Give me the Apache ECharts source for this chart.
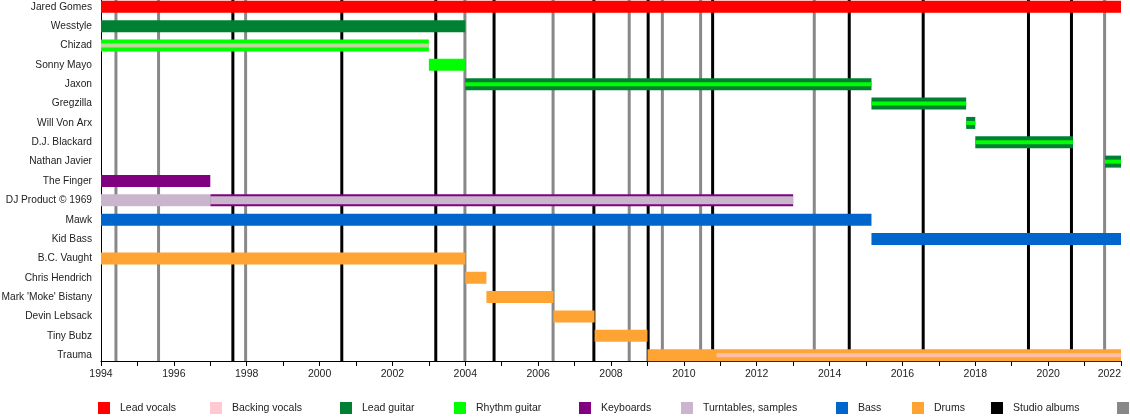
<!DOCTYPE html>
<html>
<head>
<meta charset="utf-8">
<script src="https://cdn.jsdelivr.net/npm/echarts@6/dist/echarts.min.js"></script>
<style>
  html, body { margin: 0; padding: 0; background: #fff; }
  #chart { width: 1130px; height: 420px; }
</style>
</head>
<body>
<div id="chart"></div>
<script>
const members = [
  'Jared Gomes', 'Wesstyle', 'Chizad', 'Sonny Mayo', 'Jaxon', 'Gregzilla',
  'Will Von Arx', 'D.J. Blackard', 'Nathan Javier', 'The Finger',
  'DJ Product \u00A9 1969', 'Mawk', 'Kid Bass', 'B.C. Vaught', 'Chris Hendrich',
  "Mark 'Moke' Bistany", 'Devin Lebsack', 'Tiny Bubz', 'Trauma'
];

const roles = [
  'Lead vocals', 'Backing vocals', 'Lead guitar', 'Rhythm guitar',
  'Keyboards', 'Turntables, samples', 'Bass', 'Drums'
];

const roleColors = {
  'Lead vocals': '#ff0000',
  'Backing vocals': '#ffc8d2',
  'Lead guitar': '#008033',
  'Rhythm guitar': '#00ff00',
  'Keyboards': '#800080',
  'Turntables, samples': '#c9b6cc',
  'Bass': '#0066cc',
  'Drums': '#ffa333'
};

// main bar: member, from, to, role
const tenures = [
  ['Jared Gomes', 1994, 2022, 'Lead vocals'],
  ['Wesstyle', 1994, 2004.0, 'Lead guitar'],
  ['Chizad', 1994, 2003.0, 'Rhythm guitar'],
  ['Sonny Mayo', 2003.0, 2004.0, 'Rhythm guitar'],
  ['Jaxon', 2004.0, 2015.15, 'Lead guitar'],
  ['Gregzilla', 2015.15, 2017.75, 'Lead guitar'],
  ['Will Von Arx', 2017.75, 2018.0, 'Lead guitar'],
  ['D.J. Blackard', 2018.0, 2020.68, 'Lead guitar'],
  ['Nathan Javier', 2021.56, 2022, 'Lead guitar'],
  ['The Finger', 1994, 1997.0, 'Keyboards'],
  ['DJ Product \u00A9 1969', 1994, 1997.0, 'Turntables, samples'],
  ['DJ Product \u00A9 1969', 1997.0, 2013.0, 'Keyboards'],
  ['Mawk', 1994, 2015.15, 'Bass'],
  ['Kid Bass', 2015.15, 2022, 'Bass'],
  ['B.C. Vaught', 1994, 2004.0, 'Drums'],
  ['Chris Hendrich', 2004.0, 2004.58, 'Drums'],
  ["Mark 'Moke' Bistany", 2004.58, 2006.42, 'Drums'],
  ['Devin Lebsack', 2006.42, 2007.55, 'Drums'],
  ['Tiny Bubz', 2007.55, 2009.0, 'Drums'],
  ['Trauma', 2009.0, 2022, 'Drums']
];

// second role, drawn as a stripe inside the main bar
const secondRoles = [
  ['Chizad', 1994, 2003.0, 'Backing vocals'],
  ['Jaxon', 2004.0, 2015.15, 'Rhythm guitar'],
  ['Gregzilla', 2015.15, 2017.75, 'Rhythm guitar'],
  ['Will Von Arx', 2017.75, 2018.0, 'Rhythm guitar'],
  ['D.J. Blackard', 2018.0, 2020.68, 'Rhythm guitar'],
  ['Nathan Javier', 2021.56, 2022, 'Rhythm guitar'],
  ['DJ Product \u00A9 1969', 1997.0, 2013.0, 'Turntables, samples'],
  ['Trauma', 2010.9, 2022, 'Backing vocals']
];

const studioAlbums = [1997.62, 2000.61, 2003.19, 2004.79, 2007.53, 2009.02, 2010.79, 2014.54, 2016.57, 2019.46, 2020.64];
const otherReleases = [1994.41, 1995.58, 1997.97, 2003.99, 2006.41, 2008.5, 2009.41, 2010.46, 2013.58, 2021.55];

const yearMin = 1994;
const yearMax = 2022;

const legendNames = roles.concat(['Studio albums', 'Other releases']);
const legendLeft = [98, 210, 340, 454, 579, 681, 836, 912, 991, 1117];

const chart = echarts.init(document.getElementById('chart'));

function rows(list, role) {
  return list.filter(d => d[3] === role).map(d => [members.indexOf(d[0]), d[1], d[2]]);
}

function barItem(h, fill, opacity) {
  return function (params, api) {
    const a = api.coord([api.value(1), api.value(0)]);
    const b = api.coord([api.value(2), api.value(0)]);
    return {
      type: 'rect',
      shape: { x: a[0], y: a[1] - h / 2, width: b[0] - a[0], height: h },
      style: { fill: fill, opacity: opacity }
    };
  };
}

function lineItem(params, api) {
  const x = api.coord([api.value(0), 0])[0];
  const cs = params.coordSys;
  return {
    type: 'rect',
    shape: { x: x - 1.5, y: cs.y, width: 3, height: cs.height },
    style: { fill: api.visual('color') }
  };
}

const series = [];

series.push({
  name: 'Studio albums', type: 'custom', z: 1,
  itemStyle: { color: '#000' },
  renderItem: lineItem, encode: { x: 0 },
  data: studioAlbums.map(v => [v])
});
series.push({
  name: 'Other releases', type: 'custom', z: 1,
  itemStyle: { color: '#888' },
  renderItem: lineItem, encode: { x: 0 },
  data: otherReleases.map(v => [v])
});

roles.forEach(role => {
  series.push({
    name: role, type: 'custom', z: 2,
    itemStyle: { color: roleColors[role] },
    renderItem: barItem(12, roleColors[role], 1),
    encode: { x: [1, 2], y: 0 },
    data: rows(tenures, role)
  });
});

roles.forEach(role => {
  const h = role === 'Turntables, samples' ? 8 : 4;
  const op = role === 'Backing vocals' ? 0.75 : 1;
  series.push({
    name: role, type: 'custom', z: 3,
    itemStyle: { color: roleColors[role] },
    renderItem: barItem(h, roleColors[role], op),
    encode: { x: [1, 2], y: 0 },
    data: rows(secondRoles, role)
  });
});

const option = {
  animation: false,
  backgroundColor: '#fff',
  textStyle: { fontFamily: 'Liberation Sans, Arial, sans-serif' },
  grid: { left: 101, right: 9, top: 0, bottom: 59, containLabel: false, outerBoundsMode: 'none' },
  xAxis: {
    type: 'value',
    min: yearMin,
    max: yearMax,
    interval: 1,
    axisLine: { show: true, onZero: false, lineStyle: { color: '#000', width: 1 } },
    axisTick: { show: true, length: 5, lineStyle: { color: '#000', width: 1 } },
    axisLabel: {
      color: '#222', fontSize: 10.5, margin: 8,
      alignMaxLabel: 'right',
      formatter: v => (v % 2 === 0 ? String(v) : '')
    },
    splitLine: { show: false }
  },
  yAxis: {
    type: 'value',
    inverse: true,
    min: -0.35,
    max: 18.3,
    axisLine: { show: true, onZero: false, lineStyle: { color: '#000', width: 1 } },
    axisTick: { show: false },
    splitLine: { show: false },
    axisLabel: {
      color: '#222', fontSize: 10.2, margin: 9,
      customValues: members.map((m, i) => i),
      formatter: v => members[v] || ''
    }
  },
  legend: legendNames.map((n, i) => ({
    data: [n],
    left: legendLeft[i],
    top: 402,
    icon: 'rect',
    itemWidth: 12,
    itemHeight: 12,
    selectedMode: false,
    padding: 0,
    textStyle: { color: '#222', fontSize: 10.5, padding: [0, 0, 0, 5] }
  })),
  series: series
};

chart.setOption(option);
</script>
</body>
</html>
